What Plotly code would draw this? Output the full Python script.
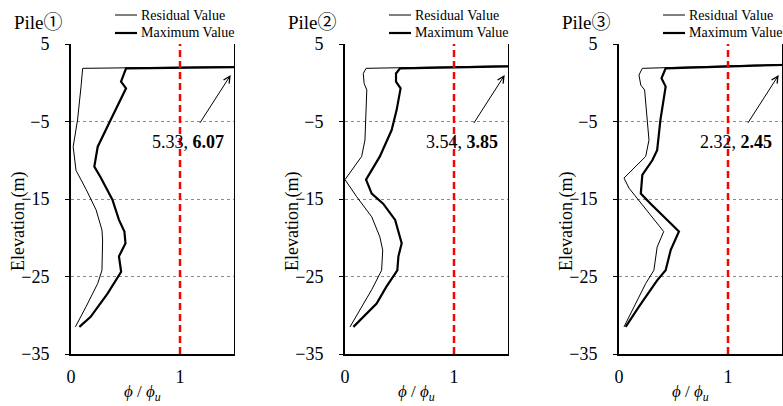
import plotly.graph_objects as go

# Curvature ratio phi/phi_u versus elevation (m) for three piles.
# The first point of each series is the pile head, whose value lies far off-scale.
pile_names = ["Pile①", "Pile②", "Pile③"]
series_names = ["Residual Value", "Maximum Value"]

res1_x = [5.33, 0.107, 0.092, 0.06, 0.02, 0.046, 0.14, 0.23, 0.284, 0.29, 0.284, 0.245, 0.138, 0.04]
res1_y = [2.7, 1.86, -0.5, -4.8, -8.25, -11.3, -13.8, -16.4, -19.0, -20.3, -24.2, -25.9, -28.9, -31.5]
max1_x = [6.07, 0.505, 0.459, 0.505, 0.35, 0.245, 0.214, 0.275, 0.38, 0.44, 0.49, 0.50, 0.44, 0.45, 0.46, 0.335, 0.18, 0.077]
max1_y = [2.7, 1.86, 0.14, -0.72, -5.2, -8.25, -10.8, -12.3, -15.1, -17.7, -19.2, -20.7, -22.4, -23.3, -24.4, -27.2, -30.2, -31.5]

res2_x = [3.54, 0.193, 0.168, 0.175, 0.2, 0.193, 0.183, 0.153, 0.0, 0.107, 0.245, 0.32, 0.346, 0.336, 0.245, 0.046]
res2_y = [2.7, 1.86, 1.2, -0.07, -0.94, -4.8, -7.4, -9.5, -12.5, -14.7, -17.3, -19.9, -21.6, -24.2, -26.7, -31.5]
max2_x = [3.85, 0.505, 0.468, 0.468, 0.51, 0.474, 0.428, 0.32, 0.193, 0.245, 0.35, 0.46, 0.52, 0.49, 0.48, 0.38, 0.29, 0.077]
max2_y = [2.7, 1.86, 1.2, 0.14, -0.72, -3.5, -6.1, -9.5, -12.5, -14.3, -15.6, -17.7, -20.7, -22.4, -24.2, -26.3, -28.5, -31.5]

res3_x = [2.32, 0.214, 0.183, 0.2, 0.235, 0.26, 0.275, 0.245, 0.046, 0.092, 0.41, 0.35, 0.32, 0.245, 0.046]
res3_y = [2.7, 1.86, 1.0, -0.3, -0.94, -4.8, -7.4, -9.5, -12.3, -13.6, -19.2, -21.2, -24.2, -25.9, -31.5]
max3_x = [2.45, 0.428, 0.39, 0.428, 0.38, 0.35, 0.306, 0.214, 0.2, 0.29, 0.55, 0.474, 0.428, 0.35, 0.183, 0.061]
max3_y = [2.7, 1.86, 0.57, -0.5, -4.8, -8.7, -10.0, -11.9, -14.3, -15.6, -19.2, -21.6, -24.2, -25.5, -28.9, -31.5]

residual_x = [res1_x, res2_x, res3_x]
residual_y = [res1_y, res2_y, res3_y]
maximum_x = [max1_x, max2_x, max3_x]
maximum_y = [max1_y, max2_y, max3_y]

y_ticks = [5, -5, -15, -25, -35]
x_ticks = [0, 1]

W, H = 783, 406
SERIF = "Liberation Serif, Times New Roman, Noto Sans CJK JP, serif"


def fx(p):
    return p / W


def fy(p):
    return 1 - p / H


panel_left = [71, 345, 619]
panel_width = 163.5
plot_top, plot_bottom = 44, 354
series_widths = [1, 2.2]
legend_rows = [15, 33]

fig = go.Figure()
annotations = []
shapes = []
layout = dict(
    width=W, height=H, showlegend=False,
    margin=dict(l=0, r=0, t=0, b=0, autoexpand=False),
    paper_bgcolor="white", plot_bgcolor="white",
    font=dict(family=SERIF, color="black", size=18),
)

for i in range(3):
    n = "" if i == 0 else str(i + 1)
    xa, ya = "x" + n, "y" + n
    left = panel_left[i]

    for name, xs, ys, w in zip(series_names, [residual_x[i], maximum_x[i]],
                               [residual_y[i], maximum_y[i]], series_widths):
        fig.add_trace(go.Scatter(
            x=xs, y=ys, mode="lines", name=name,
            line=dict(color="black", width=w), xaxis=xa, yaxis=ya,
        ))

    layout["xaxis" + n] = dict(
        domain=[fx(left), fx(left + panel_width)], anchor=ya,
        range=[0, 1.5], tickvals=x_ticks, ticks="", showgrid=False, zeroline=False,
        showline=True, linecolor="black", linewidth=2,
        tickfont=dict(family=SERIF, size=18), ticklabelstandoff=5,
    )
    layout["yaxis" + n] = dict(
        domain=[fy(plot_bottom), fy(plot_top)], anchor=xa,
        range=[-35, 5], tickvals=y_ticks, ticks="outside", ticklen=4,
        tickcolor="black", showline=True, linecolor="black", linewidth=2,
        showgrid=True, gridcolor="#8c8c8c", gridwidth=1, griddash="3px,3px",
        zeroline=False, tickfont=dict(family=SERIF, size=18), ticklabelstandoff=12,
    )

    # key: line sample and label for each series
    for name, w, row in zip(series_names, series_widths, legend_rows):
        shapes.append(dict(type="line", xref="paper", yref="paper",
                           x0=fx(left + 44), x1=fx(left + 66), y0=fy(row), y1=fy(row),
                           line=dict(color="black", width=w)))
        annotations.append(dict(
            xref="paper", yref="paper", x=fx(left + 68), y=fy(row), xanchor="left",
            yanchor="middle", showarrow=False, text=name,
            font=dict(family=SERIF, size=14, color="black"),
        ))

    # right frame line and the phi/phi_u = 1 limit
    shapes.append(dict(type="line", xref=xa + " domain", yref=ya + " domain",
                       x0=1, x1=1, y0=0, y1=1, line=dict(color="black", width=1)))
    shapes.append(dict(type="line", xref=xa, yref=ya + " domain",
                       x0=1, x1=1, y0=0, y1=1,
                       line=dict(color="#ff0000", width=2.5, dash="7px,4px")))

    # pile head values, with an arrow pointing to the off-scale segment
    annotations.append(dict(
        xref=xa, yref=ya, x=1.465, y=1.0, axref=xa, ayref=ya, ax=1.07, ay=-7.65,
        showarrow=True, arrowhead=5, arrowsize=1.3, arrowwidth=1, arrowcolor="black",
        startstandoff=9,
        text=f"{residual_x[i][0]:.2f}, <b>{maximum_x[i][0]:.2f}</b>",
        font=dict(family=SERIF, size=18, color="black"),
    ))
    # panel title
    annotations.append(dict(
        xref="paper", yref="paper", x=fx(left - 59), y=fy(22), xanchor="left", yanchor="middle",
        showarrow=False, text=pile_names[i], font=dict(family=SERIF, size=19, color="black"),
    ))
    # axis titles
    annotations.append(dict(
        xref="paper", yref="paper", x=fx(left - 53), y=fy(222), xanchor="center", yanchor="middle",
        showarrow=False, textangle=-90, text="Elevation (m)",
        font=dict(family=SERIF, size=18, color="black"),
    ))
    annotations.append(dict(
        xref="paper", yref="paper", x=fx(left + 71), y=fy(393), xanchor="center", yanchor="middle",
        showarrow=False, text="<i>ϕ</i> / <i>ϕ<sub>u</sub></i>",
        font=dict(family=SERIF, size=17, color="black"),
    ))

layout["annotations"] = annotations
layout["shapes"] = shapes
fig.update_layout(**layout)
fig.write_html("out.html")
